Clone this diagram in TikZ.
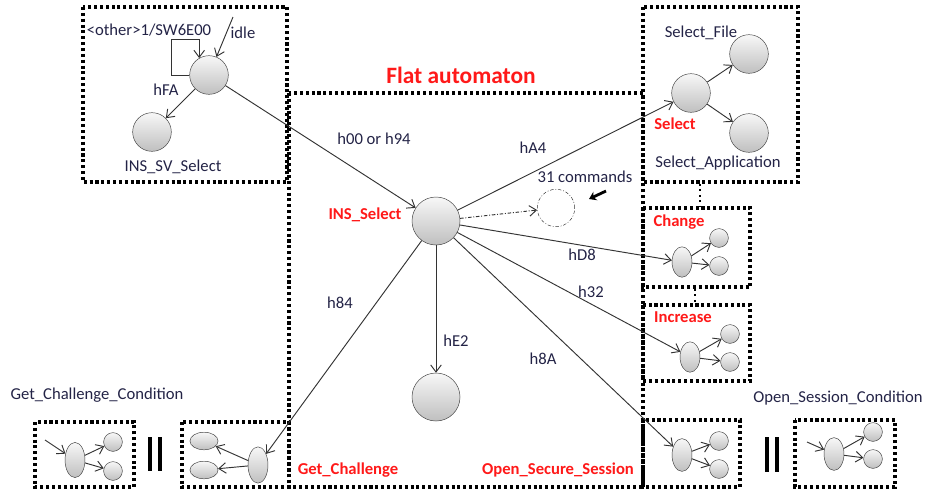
\documentclass[tikz,border=0pt]{standalone}
\usepackage{fontspec}
\setmainfont{Carlito}
\usetikzlibrary{arrows.meta}
\usetikzlibrary{shapes.geometric}
\definecolor{txtblue}{RGB}{35,35,70}
\definecolor{txtred}{RGB}{255,25,25}
\tikzset{st/.style = {draw=black!75, circle, inner sep = 0, top color=gray!6, bottom color=gray!50, minimum size = 33pt}}
\tikzset{bigst/.style = {st, minimum size = 41pt}}
\tikzset{smallst/.style = {st, minimum size = 16pt}}
\tikzset{ell/.style = {draw=black!75, ellipse, inner sep = 0, top color=gray!6, bottom color=gray!50, minimum width = 17pt, minimum height = 26pt}}
\tikzset{hell/.style = {ell, minimum width = 24pt, minimum height = 15pt}}
\tikzset{dotbox/.style = {line width = 2.6pt, dash pattern = on 2.6pt off 2.4pt}}
\tikzset{lbl/.style = {text=txtblue, inner sep = 0, font=\fontsize{14.2}{16}\selectfont}}
\tikzset{rlbl/.style = {text=txtred, inner sep = 0, font=\fontsize{14.2}{16}\selectfont\bfseries}}
\tikzset{edge/.style = {->, draw=black!80, line width = 0.8pt}}
\tikzset{bar/.style = {line width = 2.8pt}}

\begin{document}
\begin{tikzpicture}[x=0.03cm, y=-0.03cm, >={Straight Barb[length=6pt, width=9pt]}]
    \useasboundingbox (0, 0) rectangle (925, 491);

    % boxes
    \draw [dotbox] (83, 7) rectangle (287, 182);
    \draw [dotbox] (289, 93) rectangle (643, 487);
    \draw [dotbox] (643, 7) rectangle (798, 182);
    \draw [dotbox] (643, 208) rectangle (750, 287);
    \draw [dotbox] (643, 305) rectangle (750, 381);
    \draw [dotbox] (35, 422) rectangle (134, 487);
    \draw [dotbox] (182, 422) rectangle (289, 487);
    \draw [dotbox] (643, 420) rectangle (740, 487);
    \draw [dotbox] (795, 420) rectangle (895, 487);
    \draw [line width = 1.6pt, dash pattern = on 1.6pt off 3pt] (700, 184) -- (700, 207);
    \draw [line width = 1.6pt, dash pattern = on 1.6pt off 3pt] (695, 289) -- (695, 304);

    % top left
    \node [st] (idle) at (209, 75) {};
    \node [st] (sv) at (152, 132) {};
    \coordinate (init) at (233, 17);
    \draw [edge] (init) -- (idle);
    \draw [edge] (idle.west) -| (171, 39) -| (idle.120);
    \draw [edge] (idle) -- (sv);
    \node [lbl] (lother) at (149, 30) {<other>1/SW6E00};
    \node [lbl] (lidle) at (243, 33) {idle};
    \node [lbl] (lhFA) at (166, 90) {hFA};
    \node [lbl] (lsv) at (173, 167) {INS\_SV\_Select};

    % flat automaton
    \node [bigst] (insel) at (436, 221) {};
    \node [bigst] (e2) at (436, 397) {};
    \node [circle, draw=black!80, dash pattern = on 3pt off 1.5pt on 0.8pt off 1.5pt, minimum size = 32pt] (cmds) at (556, 208) {};
    \coordinate (tail) at (606, 191);
    \coordinate (head) at (589, 199);
    \draw [line width = 2.4pt, -{Stealth[length=6pt, width=8pt]}] (tail) -- (head);
    \draw [edge] (idle) -- (insel);
    \draw [->, draw=black!80, line width = 0.8pt, dash pattern = on 3pt off 1.5pt on 0.8pt off 1.5pt] (insel) -- (cmds);
    \draw [edge] (insel) -- (e2);
    \node [rlbl, font=\fontsize{20}{22}\selectfont\bfseries] (ltitle) at (461, 75) {Flat automaton};
    \node [rlbl] (linsel) at (365, 215) {INS\_Select};
    \node [lbl] (lh00) at (374, 139) {h00 or h94};
    \node [lbl] (lhA4) at (533, 148) {hA4};
    \node [lbl] (lcmds) at (585, 177) {31 commands};
    \node [lbl] (lhD8) at (582, 255) {hD8};
    \node [lbl] (lh32) at (591, 292) {h32};
    \node [lbl] (lh84) at (340, 303) {h84};
    \node [lbl] (lhE2) at (456, 341) {hE2};
    \node [lbl] (lh8A) at (543, 359) {h8A};
    \node [rlbl] (lgc) at (348, 470) {Get\_Challenge};
    \node [rlbl] (loss) at (558, 470) {Open\_Secure\_Session};

    % select
    \node [st] (sel) at (691, 93) {};
    \node [st] (sfile) at (749, 54) {};
    \node [st] (sapp) at (749, 133) {};
    \draw [edge] (insel) -- (sel);
    \draw [edge] (sel) -- (sfile);
    \draw [edge] (sel) -- (sapp);
    \node [lbl] (lsfile) at (701, 33) {Select\_File};
    \node [rlbl] (lsel) at (675, 124) {Select};
    \node [lbl] (lsapp) at (718, 163) {Select\_Application};

    % change
    \node [ell] (ch) at (682, 262) {};
    \node [smallst] (ch1) at (719, 238) {};
    \node [smallst] (ch2) at (719, 266) {};
    \draw [edge] (insel) -- (ch);
    \draw [edge] (ch) -- (ch1);
    \draw [edge] (ch) -- (ch2);
    \node [rlbl] (lch) at (679, 222) {Change};

    % increase
    \node [ell] (inc) at (690, 357) {};
    \node [smallst] (inc1) at (730, 334) {};
    \node [smallst] (inc2) at (730, 362) {};
    \draw [edge] (insel) -- (inc);
    \draw [edge] (inc) -- (inc1);
    \draw [edge] (inc) -- (inc2);
    \node [rlbl] (linc) at (683, 317) {Increase};

    % get challenge
    \node [ell, minimum height = 31pt] (gc) at (258, 465) {};
    \node [hell] (gc1) at (204, 441) {};
    \node [hell] (gc2) at (204, 470) {};
    \draw [edge] (insel) -- (gc);
    \draw [edge] (gc) -- (gc1);
    \draw [edge] (gc) -- (gc2);

    \node [ell, minimum height = 30pt] (gcc) at (75, 460) {};
    \node [smallst] (gcc1) at (113, 442) {};
    \node [smallst] (gcc2) at (113, 471) {};
    \coordinate (gccin) at (45, 440);
    \draw [edge] (gccin) -- (gcc);
    \draw [edge] (gcc) -- (gcc1);
    \draw [edge] (gcc) -- (gcc2);
    \draw [bar] (150, 437) -- (150, 471);
    \draw [bar] (160, 437) -- (160, 471);
    \node [lbl] (lgcc) at (97, 395) {Get\_Challenge\_Condition};

    % open session
    \node [ell, minimum height = 28pt] (os) at (682, 455) {};
    \node [smallst] (os1) at (719, 441) {};
    \node [smallst] (os2) at (719, 469) {};
    \draw [edge] (insel) -- (os);
    \draw [edge] (os) -- (os1);
    \draw [edge] (os) -- (os2);

    \node [ell, minimum height = 28pt] (osc) at (834, 454) {};
    \node [smallst] (osc1) at (873, 432) {};
    \node [smallst] (osc2) at (873, 459) {};
    \coordinate (oscin) at (807, 442);
    \draw [edge] (oscin) -- (osc);
    \draw [edge] (osc) -- (osc1);
    \draw [edge] (osc) -- (osc2);
    \draw [bar] (767, 437) -- (767, 472);
    \draw [bar] (777, 437) -- (777, 472);
    \node [lbl] (losc) at (838, 398) {Open\_Session\_Condition};
  \end{tikzpicture}
\end{document}
